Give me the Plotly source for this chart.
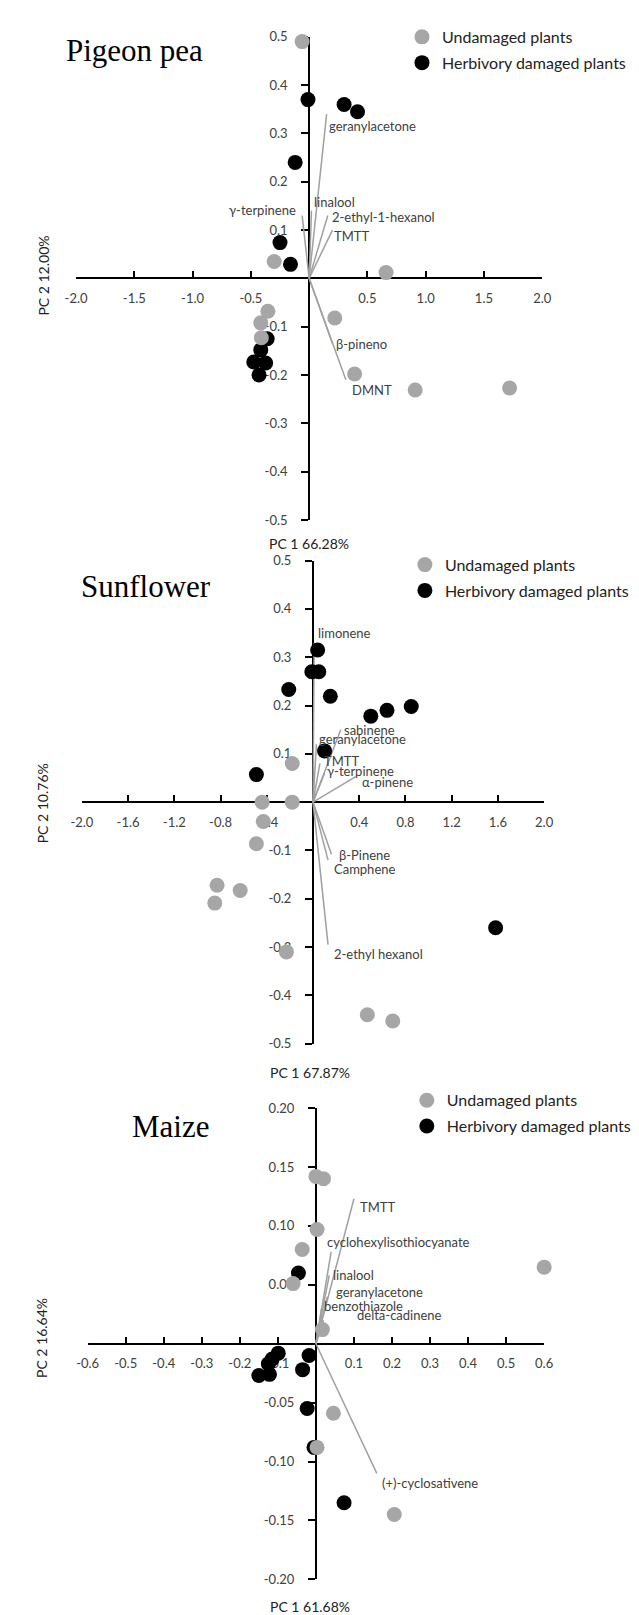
import plotly.graph_objects as go

W, H = 639, 1615

# ---------------- data ----------------
# Pigeon pea
pp_und_x = [-0.06, -0.30, 0.66, -0.354, -0.415, -0.41, 0.22, 0.39, 0.91, 1.72]
pp_und_y = [0.49, 0.035, 0.012, -0.068, -0.092, -0.123, -0.082, -0.198, -0.231, -0.227]
pp_dam_x = [-0.01, 0.30, 0.415, -0.12, -0.25, -0.16, -0.36, -0.415, -0.475, -0.373, -0.43]
pp_dam_y = [0.37, 0.36, 0.345, 0.24, 0.074, 0.029, -0.125, -0.148, -0.173, -0.175, -0.20]
pp_load_names = ["geranylacetone", "linalool", "2-ethyl-1-hexanol", "TMTT", "γ-terpinene", "β-pineno", "DMNT"]
pp_load_x = [0.15, 0.02, 0.16, 0.20, -0.06, 0.20, 0.315]
pp_load_y = [0.34, 0.14, 0.13, 0.10, 0.13, -0.135, -0.21]

# Sunflower
sf_und_x = [-0.18, -0.44, -0.18, -0.43, -0.49, -0.83, -0.85, -0.63, -0.23, 0.47, 0.69]
sf_und_y = [0.08, 0.0, 0.0, -0.04, -0.086, -0.172, -0.209, -0.183, -0.31, -0.44, -0.453]
sf_dam_x = [0.04, -0.01, 0.05, -0.21, 0.15, 0.10, -0.49, 0.50, 0.64, 0.85, 1.58]
sf_dam_y = [0.315, 0.27, 0.27, 0.233, 0.219, 0.106, 0.057, 0.178, 0.19, 0.198, -0.26]
sf_load_names = ["limonene", "sabinene", "geranylacetone", "TMTT", "γ-terpinene", "α-pinene",
                 "β-Pinene", "Camphene", "2-ethyl hexanol"]
sf_load_x = [0.01, 0.24, 0.03, 0.06, 0.10, 0.37, 0.16, 0.13, 0.13]
sf_load_y = [0.33, 0.15, 0.12, 0.08, 0.06, 0.053, -0.108, -0.12, -0.295]

# Maize
mz_und_x = [0.0, 0.02, 0.003, -0.036, -0.06, 0.60, 0.017, 0.046, 0.003, 0.206]
mz_und_y = [0.142, 0.14, 0.097, 0.08, 0.051, 0.065, 0.012, -0.059, -0.088, -0.145]
mz_dam_x = [-0.046, -0.099, -0.115, -0.125, -0.15, -0.122, -0.018, -0.035, -0.023, -0.005, 0.074]
mz_dam_y = [0.06, -0.008, -0.013, -0.017, -0.027, -0.026, -0.01, -0.022, -0.055, -0.088, -0.135]
mz_load_names = ["TMTT", "cyclohexylisothiocyanate", "linalool", "geranylacetone", "benzothiazole",
                 "delta-cadinene", "(+)-cyclosativene"]
mz_load_x = [0.10, 0.04, 0.035, 0.03, 0.015, 0.02, 0.16]
mz_load_y = [0.123, 0.078, 0.058, 0.04, 0.03, 0.02, -0.11]

titles = ["Pigeon pea", "Sunflower", "Maize"]
pc1_labels = ["PC 1 66.28%", "PC 1 67.87%", "PC 1 61.68%"]
pc2_labels = ["PC 2 12.00%", "PC 2 10.76%", "PC 2 16.64%"]
legend_names = ["Undamaged plants", "Herbivory damaged plants"]

pp_xticks = [-2.0, -1.5, -1.0, -0.5, 0.5, 1.0, 1.5, 2.0]
pp_yticks = [-0.5, -0.4, -0.3, -0.2, -0.1, 0.1, 0.2, 0.3, 0.4, 0.5]
sf_xticks = [-2.0, -1.6, -1.2, -0.8, -0.4, 0.4, 0.8, 1.2, 1.6, 2.0]
sf_yticks = [-0.5, -0.4, -0.3, -0.2, -0.1, 0.1, 0.2, 0.3, 0.4, 0.5]
mz_xticks = [-0.6, -0.5, -0.4, -0.3, -0.2, -0.1, 0.1, 0.2, 0.3, 0.4, 0.5, 0.6]
mz_yticks = [-0.20, -0.15, -0.10, -0.05, 0.05, 0.10, 0.15, 0.20]

# ---------------- layout geometry (pixels) ----------------
panels = [
    dict(und=(pp_und_x, pp_und_y), dam=(pp_dam_x, pp_dam_y),
         load=(pp_load_names, pp_load_x, pp_load_y),
         xr=[-2, 2], yr=[-0.5, 0.5], xpx=[59, 541], ypx=[21, 509], origin=(300, 265),
         xticks=pp_xticks, yticks=pp_yticks, xfmt="{:.1f}", yfmt="{:.1f}",
         title_pos=(119, 35), pc1_pos=(300, 533), pc2_pos=(25, 262), legend_pos=(396, 4),
         shifts=[(0, -12, "left"), (1, 9, "left"), (2, -1, "left"), (0, -6, "left"),
                 (-4, 6, "right"), (2, 0, "left"), (4, -10, "left")]),
    dict(und=(sf_und_x, sf_und_y), dam=(sf_dam_x, sf_dam_y),
         load=(sf_load_names, sf_load_x, sf_load_y),
         xr=[-2, 2], yr=[-0.5, 0.5], xpx=[65, 543], ypx=[550, 1038], origin=(304, 794),
         xticks=sf_xticks, yticks=sf_yticks, xfmt="{:.1f}", yfmt="{:.1f}",
         title_pos=(131, 576), pc1_pos=(301, 1067), pc2_pos=(24, 795), legend_pos=(399, 537),
         shifts=[(2, 10, "left"), (1, 0, "left"), (1, 5, "left"), (2, 2, "left"), (0, 2, "left"),
                 (4, -5, "left"), (5, -1, "left"), (4, -9, "left"), (4, -9, "left")]),
    dict(und=(mz_und_x, mz_und_y), dam=(mz_dam_x, mz_dam_y),
         load=(mz_load_names, mz_load_x, mz_load_y),
         xr=[-0.6, 0.6], yr=[-0.2, 0.2], xpx=[71, 543], ypx=[1103, 1579], origin=(307, 1341),
         xticks=mz_xticks, yticks=mz_yticks, xfmt="{:.1f}", yfmt="{:.2f}",
         title_pos=(157, 1122), pc1_pos=(301, 1606), pc2_pos=(24, 1335), legend_pos=(401, 1078),
         shifts=[(4, -8, "left"), (-6, 10, "left"), (2, 0, "left"), (7, 5, "left"), (0, 2, "left"),
                 (31, 5, "left"), (3, -10, "left")]),
]

GRAY = "#a6a6a6"
LINE = "#a0a0a0"
TXT = "#404040"
FONT = "Lato"

fig = go.Figure()
annotations = []
layout = {}

for i, p in enumerate(panels, start=1):
    sfx = "" if i == 1 else str(i)
    xa, ya = "x" + sfx, "y" + sfx
    lg = "legend" + sfx
    names, lx, ly = p["load"]
    xs, ys = [], []
    for a, b in zip(lx, ly):
        xs += [0, a, None]
        ys += [0, b, None]
    fig.add_trace(go.Scatter(x=xs, y=ys, mode="lines", line=dict(color=LINE, width=1.5),
                             xaxis=xa, yaxis=ya, showlegend=False, hoverinfo="skip"))
    fig.add_trace(go.Scatter(x=p["dam"][0], y=p["dam"][1], mode="markers", name=legend_names[1],
                             marker=dict(color="black", size=15), xaxis=xa, yaxis=ya,
                             legend=lg, legendrank=2, legendgroup="d" + sfx, cliponaxis=False))
    fig.add_trace(go.Scatter(x=p["und"][0], y=p["und"][1], mode="markers", name=legend_names[0],
                             marker=dict(color=GRAY, size=15), xaxis=xa, yaxis=ya,
                             legend=lg, legendrank=1, legendgroup="u" + sfx, cliponaxis=False))
    ox, oy = p["origin"]
    layout["xaxis" + sfx] = dict(
        domain=[p["xpx"][0] / W, p["xpx"][1] / W], range=p["xr"], anchor="free",
        position=1 - oy / H, showgrid=False, zeroline=False, showline=True,
        linecolor="black", linewidth=2, ticks="inside", ticklen=6, tickwidth=2,
        tickcolor="black", tickvals=p["xticks"], ticktext=[p["xfmt"].format(v) for v in p["xticks"]],
        tickfont=dict(family=FONT, size=13, color=TXT), ticklabelstandoff=8, layer="below traces")
    layout["yaxis" + sfx] = dict(
        domain=[1 - p["ypx"][1] / H, 1 - p["ypx"][0] / H], range=p["yr"], anchor="free",
        position=ox / W, showgrid=False, zeroline=False, showline=True,
        linecolor="black", linewidth=2, ticks="outside", ticklen=7, tickwidth=2,
        tickcolor="black", tickvals=p["yticks"], ticktext=[p["yfmt"].format(v) for v in p["yticks"]],
        tickfont=dict(family=FONT, size=13, color=TXT), ticklabelstandoff=11, layer="below traces")
    lx0, ly0 = p["legend_pos"]
    layout[lg] = dict(x=lx0 / W, y=1 - ly0 / H, xanchor="left", yanchor="top",
                      font=dict(family=FONT, size=16, color="#222"), bgcolor="rgba(0,0,0,0)",
                      traceorder="grouped", tracegroupgap=2, itemclick=False)
    for n, a, b, (dx, dy, anc) in zip(names, lx, ly, p["shifts"]):
        annotations.append(dict(x=a, y=b, xref=xa, yref=ya, text=n, showarrow=False,
                                xanchor=anc, yanchor="middle", xshift=dx, yshift=dy,
                                font=dict(family=FONT, size=13, color=TXT)))
    tx, ty = p["title_pos"]
    annotations.append(dict(x=tx / W, y=1 - ty / H, xref="paper", yref="paper", text=titles[i - 1],
                            showarrow=False, xanchor="center", yanchor="middle",
                            font=dict(family="Liberation Serif", size=31, color="black")))
    cx, cy = p["pc1_pos"]
    annotations.append(dict(x=cx / W, y=1 - cy / H, xref="paper", yref="paper", text=pc1_labels[i - 1],
                            showarrow=False, xanchor="center", yanchor="middle",
                            font=dict(family=FONT, size=14, color="#222")))
    vx, vy = p["pc2_pos"]
    annotations.append(dict(x=vx / W, y=1 - vy / H, xref="paper", yref="paper", text=pc2_labels[i - 1],
                            showarrow=False, xanchor="center", yanchor="middle", textangle=-90,
                            font=dict(family=FONT, size=14, color="#222")))

fig.update_layout(width=W, height=H, margin=dict(l=0, r=0, t=0, b=0),
                  paper_bgcolor="white", plot_bgcolor="rgba(0,0,0,0)",
                  annotations=annotations, **layout)

fig.write_html("out.html")
